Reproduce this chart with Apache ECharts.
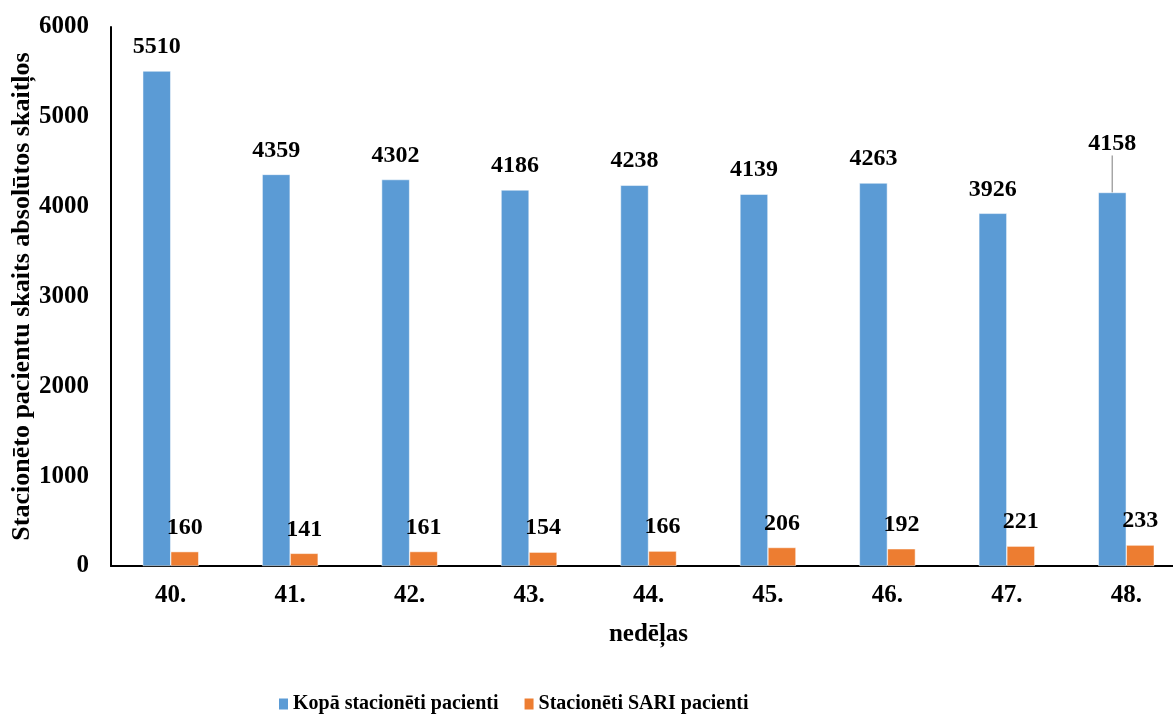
<!DOCTYPE html>
<html><head><meta charset="utf-8">
<script src="https://cdn.jsdelivr.net/npm/echarts@6/dist/echarts.min.js"></script>
<style>html,body{margin:0;padding:0;background:#fff}#c{width:1173px;height:719px}</style>
</head><body><div id="c"></div>
<script>
const categories = ['40.', '41.', '42.', '43.', '44.', '45.', '46.', '47.', '48.'];
const totalPatients = [5510, 4359, 4302, 4186, 4238, 4139, 4263, 3926, 4158];
const sariPatients = [160, 141, 161, 154, 166, 206, 192, 221, 233];
const yTicks = [0, 1000, 2000, 3000, 4000, 5000, 6000];
const seriesNames = ['Kopā stacionēti pacienti', 'Stacionēti SARI pacienti'];

const font = 'Liberation Serif, Times New Roman, serif';
const chart = echarts.init(document.getElementById('c'));
chart.setOption({
  animation: false,
  textStyle: { fontFamily: font },
  grid: { left: 111, right: -13, top: 27, bottom: 153, outerBoundsMode: 'none', containLabel: false },
  legend: {
    bottom: 0, left: 272, itemWidth: 11, itemHeight: 13, itemGap: 24,
    icon: 'rect',
    textStyle: { fontFamily: font, fontWeight: 'bold', fontSize: 20, color: '#000', padding: [0, 0, 0, -1] },
    data: seriesNames
  },
  xAxis: {
    type: 'category', data: categories,
    name: 'nedēļas', nameLocation: 'middle', nameGap: 56, nameMoveOverlap: false,
    nameTextStyle: { fontFamily: font, fontWeight: 'bold', fontSize: 25, color: '#000' },
    axisLine: { lineStyle: { color: '#000', width: 2 } },
    axisTick: { show: false },
    axisLabel: { fontFamily: font, fontWeight: 'bold', fontSize: 25, color: '#000', margin: 17 }
  },
  yAxis: {
    type: 'value', min: yTicks[0], max: yTicks[yTicks.length - 1], interval: 1000,
    name: 'Stacionēto pacientu skaits absolūtos skaitļos', nameLocation: 'middle', nameGap: 76, nameMoveOverlap: false,
    nameTextStyle: { fontFamily: font, fontWeight: 'bold', fontSize: 26, color: '#000' },
    axisLine: { show: true, lineStyle: { color: '#000', width: 2 } },
    axisTick: { show: false },
    splitLine: { show: false },
    axisLabel: { fontFamily: font, fontWeight: 'bold', fontSize: 25, color: '#000', margin: 22, formatter: v => String(v) }
  },
  series: [
    {
      name: seriesNames[0], type: 'bar',
      data: totalPatients.map((v, i) => i === 8 ? { value: v, labelLine: { show: true } } : v),
      barWidth: 28, barGap: '0%',
      itemStyle: { color: '#5b9bd5', borderColor: '#fff', borderWidth: 0.5 },
      label: { show: true, position: 'top', distance: 12, fontFamily: font, fontWeight: 'bold', fontSize: 24, color: '#000' },
      labelLine: { show: false, lineStyle: { color: '#a6a6a6', width: 1.5 } },
      labelLayout: function (p) { return p.dataIndex === 8 ? { dy: -25 } : {}; }
    },
    {
      name: seriesNames[1], type: 'bar', data: sariPatients,
      barWidth: 28,
      itemStyle: { color: '#ed7d31', borderColor: '#fff', borderWidth: 0.5 },
      label: { show: true, position: 'top', distance: 12, fontFamily: font, fontWeight: 'bold', fontSize: 24, color: '#000' }
    }
  ]
});
</script></body></html>
